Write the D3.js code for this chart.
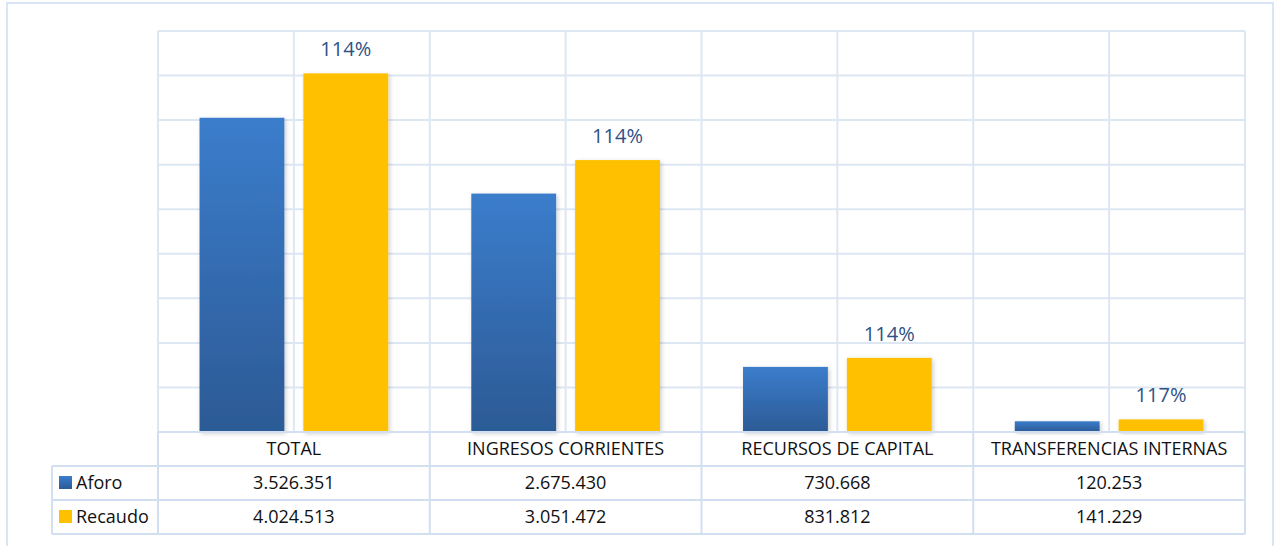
<!DOCTYPE html>
<html>
<head>
<meta charset="utf-8">
<script src="https://cdn.jsdelivr.net/npm/d3@7"></script>
<style>
  html, body { margin: 0; padding: 0; background: #fff; }
  svg { display: block; }
</style>
</head>
<body>
<div id="chart"></div>
<script>
// data
const categories = ["TOTAL", "INGRESOS CORRIENTES", "RECURSOS DE CAPITAL", "TRANSFERENCIAS INTERNAS"];
const seriesNames = ["Aforo", "Recaudo"];
const aforo = [3526351, 2675430, 730668, 120253];
const recaudo = [4024513, 3051472, 831812, 141229];

const W = 1279, H = 546;
const plot = { left: 158, right: 1245, top: 31, bottom: 432 };
const rowH = 34;
const legendLeft = 52;
const gridColor = "#dde7f4";
const tableColor = "#d2dff0";
const font = "'Open Sans', Lato, sans-serif";

const locale = d3.formatLocale({ decimal: ",", thousands: ".", grouping: [3], currency: ["$", ""] });
const fmt = locale.format(",.0f");

const svg = d3.select("#chart").append("svg")
    .attr("width", W)
    .attr("height", H);

const defs = svg.append("defs");
const grad = defs.append("linearGradient")
    .attr("id", "blueGrad")
    .attr("x1", 0).attr("y1", 0).attr("x2", 0).attr("y2", 1);
grad.append("stop").attr("offset", "0%").attr("stop-color", "#3b7dcc");
grad.append("stop").attr("offset", "100%").attr("stop-color", "#2c5a95");

const shadow = defs.append("filter").attr("id", "shadow")
    .attr("x", "-10%").attr("y", "-10%").attr("width", "130%").attr("height", "130%");
shadow.append("feDropShadow")
    .attr("dx", 1.5).attr("dy", 1.5).attr("stdDeviation", 2)
    .attr("flood-color", "#000").attr("flood-opacity", 0.2);

// outer border
svg.append("rect")
    .attr("x", 7).attr("y", 3)
    .attr("width", 1266).attr("height", 560)
    .attr("fill", "none")
    .attr("stroke", "#dae5f5")
    .attr("stroke-width", 2);

const x = d3.scaleBand()
    .domain(categories)
    .range([plot.left, plot.right])
    .paddingInner(0).paddingOuter(0);

const xInner = d3.scaleBand()
    .domain(seriesNames)
    .range([0, x.bandwidth()])
    .paddingInner(0.183)
    .paddingOuter(0.4);

const y = d3.scaleLinear()
    .domain([0, 4500000])
    .range([plot.bottom, plot.top]);

// gridlines
const grid = svg.append("g");
grid.selectAll("line.h")
    .data(y.ticks(9))
    .join("line")
    .attr("class", "h")
    .attr("x1", plot.left).attr("x2", plot.right)
    .attr("y1", d => y(d)).attr("y2", d => y(d))
    .attr("stroke", gridColor).attr("stroke-width", 2);

const vLines = [];
categories.forEach(c => { vLines.push(x(c)); vLines.push(x(c) + x.bandwidth() / 2); });
vLines.push(plot.right);
grid.selectAll("line.v")
    .data(vLines)
    .join("line")
    .attr("class", "v")
    .attr("x1", d => d).attr("x2", d => d)
    .attr("y1", plot.top).attr("y2", plot.bottom)
    .attr("stroke", gridColor).attr("stroke-width", 2);

// bars
const rows = categories.map((c, i) => ({ cat: c, Aforo: aforo[i], Recaudo: recaudo[i] }));
const fills = { Aforo: "url(#blueGrad)", Recaudo: "#ffc000" };

const groups = svg.append("g").selectAll("g")
    .data(rows)
    .join("g")
    .attr("transform", d => `translate(${x(d.cat)},0)`);

groups.selectAll("rect")
    .data(d => seriesNames.map(s => ({ s, v: d[s] })))
    .join("rect")
    .attr("x", d => xInner(d.s))
    .attr("width", xInner.bandwidth())
    .attr("y", d => y(d.v))
    .attr("height", d => plot.bottom - y(d.v))
    .attr("fill", d => fills[d.s])
    .attr("filter", "url(#shadow)");

// percentage labels
groups.append("text")
    .attr("x", xInner("Recaudo") + xInner.bandwidth() / 2)
    .attr("y", d => y(d.Recaudo) - 17)
    .attr("text-anchor", "middle")
    .attr("font-family", font)
    .attr("font-size", 20)
    .attr("fill", "#2f5286")
    .text(d => Math.round(d.Recaudo / d.Aforo * 100) + "%");

// data table
const table = svg.append("g");
const tTop = plot.bottom;
[tTop, tTop + rowH, tTop + 2 * rowH, tTop + 3 * rowH].forEach((yy, i) => {
    table.append("line")
        .attr("x1", i === 0 ? plot.left : legendLeft).attr("x2", plot.right)
        .attr("y1", yy).attr("y2", yy)
        .attr("stroke", tableColor).attr("stroke-width", 2);
});
table.append("line")
    .attr("x1", legendLeft).attr("x2", legendLeft)
    .attr("y1", tTop + rowH).attr("y2", tTop + 3 * rowH)
    .attr("stroke", tableColor).attr("stroke-width", 2);
categories.concat([null]).forEach(c => {
    const xx = c ? x(c) : plot.right;
    table.append("line")
        .attr("x1", xx).attr("x2", xx)
        .attr("y1", tTop).attr("y2", tTop + 3 * rowH)
        .attr("stroke", tableColor).attr("stroke-width", 2);
});

// category labels
table.selectAll("text.cat")
    .data(categories)
    .join("text")
    .attr("class", "cat")
    .attr("x", d => x(d) + x.bandwidth() / 2)
    .attr("y", tTop + rowH / 2 + 6)
    .attr("text-anchor", "middle")
    .attr("font-family", font)
    .attr("font-size", 18)
    .attr("fill", "#111")
    .text(d => d);

// values
const seriesVals = { Aforo: aforo, Recaudo: recaudo };
seriesNames.forEach((s, si) => {
    const rowY = tTop + (si + 1) * rowH;
    table.append("rect")
        .attr("x", 59).attr("y", rowY + 10)
        .attr("width", 13).attr("height", 13)
        .attr("fill", fills[s]);
    table.append("text")
        .attr("x", 76).attr("y", rowY + rowH / 2 + 6)
        .attr("font-family", font)
        .attr("font-size", 18)
        .attr("fill", "#111")
        .text(s);
    table.selectAll("text.v" + si)
        .data(seriesVals[s])
        .join("text")
        .attr("class", "v" + si)
        .attr("x", (d, i) => x(categories[i]) + x.bandwidth() / 2)
        .attr("y", rowY + rowH / 2 + 6)
        .attr("text-anchor", "middle")
        .attr("font-family", font)
        .attr("font-size", 18)
        .attr("fill", "#111")
        .text(d => fmt(d));
});
</script>
</body>
</html>
